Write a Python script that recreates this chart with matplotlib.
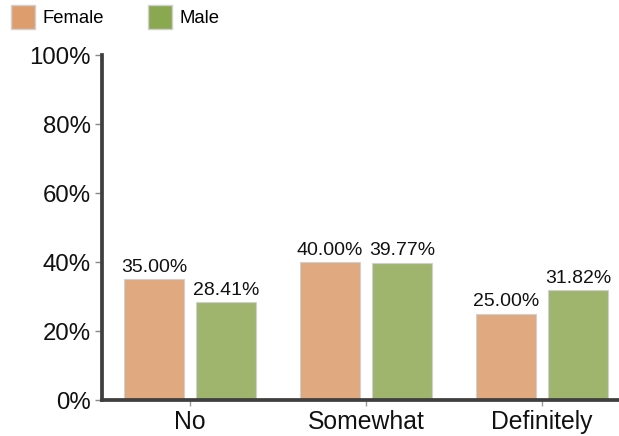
import numpy as np
import matplotlib.pyplot as plt
from matplotlib.patches import Patch

plt.rcParams['font.family'] = ['Liberation Sans', 'DejaVu Sans']

# data
categories = ["No", "Somewhat", "Definitely"]
female = [35.00, 40.00, 25.00]
male = [28.41, 39.77, 31.82]
yticks = [0, 20, 40, 60, 80, 100]

c_female = "#E0A97F"
c_male = "#9FB56E"
spine_col = "#3F3F3F"

fig = plt.figure(figsize=(6.19, 4.36), dpi=100)
W, H = 619, 436
# axes in pixel coords: left 103, right 631 (beyond edge), bottom 400, top 55
ax = fig.add_axes([102 / W, 1 - 400 / H, 528 / W, 345 / H])

x = np.arange(len(categories))
bw = 60 / 176
off = 36 / 176
b1 = ax.bar(x - off, female, bw, color=c_female, edgecolor="#D0D0D0", linewidth=0.8)
b2 = ax.bar(x + off, male, bw, color=c_male, edgecolor="#D0D0D0", linewidth=0.8)

for bars, vals in ((b1, female), (b2, male)):
    for r, v in zip(bars, vals):
        ax.text(r.get_x() + r.get_width() / 2, v + 1.0, f"{v:.2f}%",
                ha="center", va="bottom", fontsize=14, color="#111111")

ax.set_xlim(-0.5, 2.5)
ax.set_ylim(0, 100)
ax.set_yticks(yticks)
ax.set_yticklabels([f"{t}%" for t in yticks], fontsize=17.3, color="#111111")
ax.set_xticks(x)
ax.set_xticklabels(categories, fontsize=17.8, color="#111111")

for s in ("top", "right"):
    ax.spines[s].set_visible(False)
for s in ("left", "bottom"):
    ax.spines[s].set_color(spine_col)
    ax.spines[s].set_linewidth(2.7)
ax.tick_params(axis="y", color="#888888", length=5, width=1, pad=3)
ax.tick_params(axis="x", color="#999999", length=4, width=1, pad=3)

handles = [Patch(facecolor="#DE9D6D", edgecolor="#D0D0D0", label="Female"),
           Patch(facecolor="#8AA84F", edgecolor="#D0D0D0", label="Male")]
fig.legend(handles=handles, loc="upper left", bbox_to_anchor=(11 / W, 1 - 5 / H), ncol=2,
           frameon=False, fontsize=13.3, handlelength=1.3, handleheight=1.6,
           handletextpad=0.4, columnspacing=2.4, borderaxespad=0, borderpad=0)

fig.savefig("out.png", dpi=100)
